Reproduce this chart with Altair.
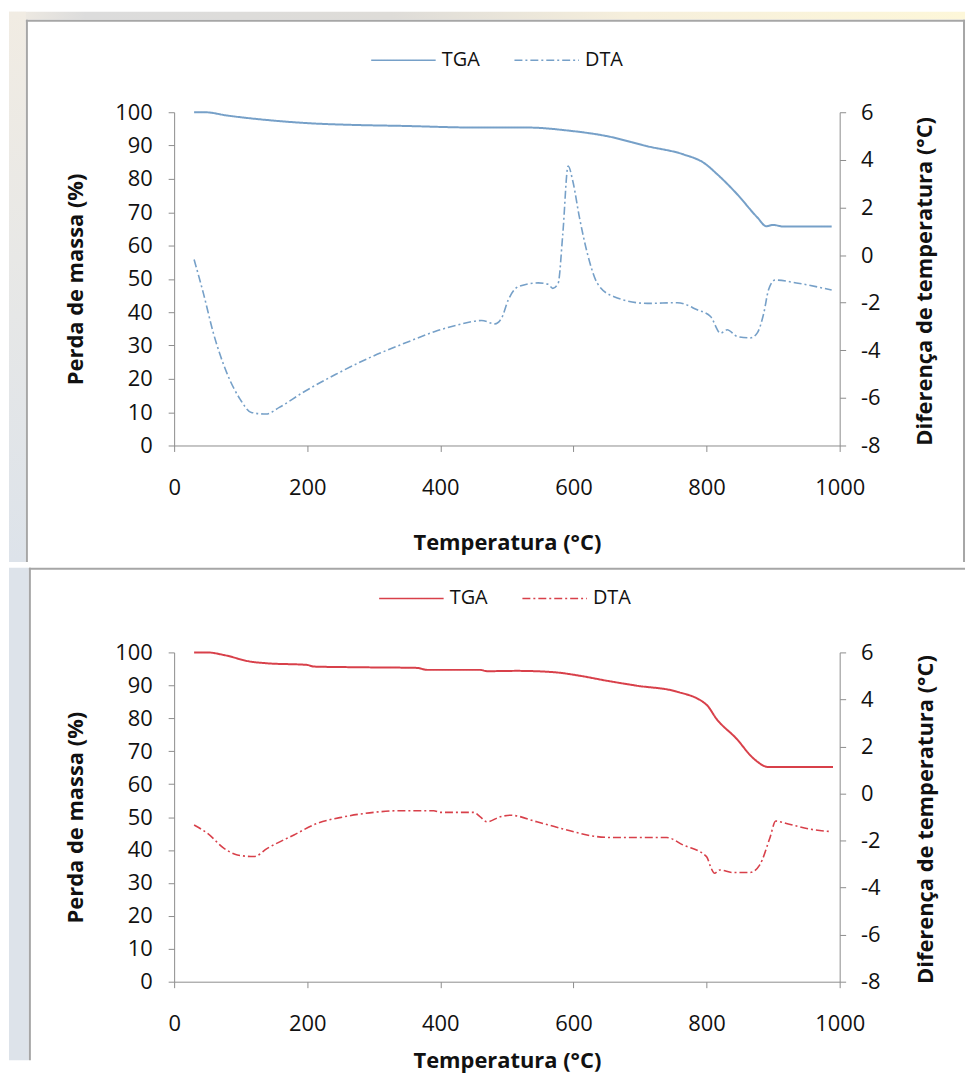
import altair as alt
import pandas as pd

# ---------------- data ----------------
top_tga_T = [30, 46, 80, 138, 203, 268, 343, 457, 532, 592, 651, 711, 766, 796, 816, 846, 876, 890, 900, 915, 988]
top_tga_v = [100, 100, 99.0, 97.7, 96.7, 96.2, 95.9, 95.4, 95.4, 94.5, 92.8, 89.8, 87.3, 84.8, 81.4, 75.4, 68.5, 65.8, 66.2, 65.7, 65.7]

top_dta_T = [30, 44, 59, 79, 99, 116, 138, 158, 193, 243, 293, 353, 392, 427, 462, 482, 492, 502, 517, 547, 562,
             569, 577, 584, 592, 599, 609, 621, 636, 661, 711, 756, 786, 806, 821, 831, 846, 866, 876, 886, 893,
             903, 935, 988]
top_dta_v = [-0.19, -1.61, -3.28, -4.94, -6.05, -6.61, -6.68, -6.40, -5.78, -5.01, -4.32, -3.63, -3.21, -2.93, -2.75,
             -2.89, -2.65, -1.89, -1.33, -1.17, -1.23, -1.40, -1.19, 0.89, 3.74, 3.11, 1.58, 0.06, -1.19, -1.75,
             -2.03, -2.00, -2.30, -2.58, -3.28, -3.14, -3.42, -3.48, -3.28, -2.44, -1.47, -1.05, -1.17, -1.47]

bot_tga_T = [30, 50, 75, 115, 140, 200, 210, 275, 365, 380, 460, 470, 515, 570, 610, 650, 695, 755, 800, 815, 845, 870, 893, 990]
bot_tga_v = [100, 100, 99.2, 97.2, 96.7, 96.2, 95.7, 95.5, 95.3, 94.7, 94.7, 94.3, 94.4, 94.0, 92.9, 91.4, 89.9, 88.1,
             84.1, 79.8, 73.8, 67.9, 65.2, 65.2]

bot_dta_T = [30, 50, 75, 95, 120, 140, 180, 215, 255, 300, 340, 390, 400, 450, 460, 470, 490, 505, 545, 605, 625,
             660, 740, 765, 800, 807, 812, 820, 840, 865, 880, 895, 904, 920, 955, 988]
bot_dta_v = [-1.34, -1.69, -2.33, -2.61, -2.68, -2.33, -1.76, -1.27, -0.99, -0.80, -0.73, -0.73, -0.80, -0.80, -0.99,
             -1.20, -0.99, -0.92, -1.20, -1.66, -1.79, -1.87, -1.87, -2.19, -2.68, -3.18, -3.39, -3.25, -3.36, -3.36,
             -3.03, -1.90, -1.17, -1.27, -1.51, -1.62]

series_names = ["TGA", "DTA"]
x_ticks = [0, 200, 400, 600, 800, 1000]
left_ticks = list(range(0, 101, 10))
right_ticks = [-8, -6, -4, -2, 0, 2, 4, 6]

x_title_top = "Temperatura (°C)"
x_title_bot = "Temperatura  (°C)"
left_title = "Perda de massa (%)"
right_title = "Diferença de temperatura (°C)"

FONT = "Open Sans"
BORDER = "#a6a6a6"
PLAIN = "datum.value + ''"
one = pd.DataFrame({"a": [0]})


def panel(tT, tv, dT, dv, color, g):
    W, H = g["w"], g["h"]
    tga = pd.DataFrame({"T": tT, "v": tv, "series": "TGA"})
    dta = pd.DataFrame({"T": dT, "v": dv, "series": "DTA"})

    xaxis = alt.Axis(values=x_ticks, labelExpr=PLAIN, title=g["xtitle"], titleX=W / 2, titleY=g["xtitleY"],
                     titleAlign="center", titleBaseline="middle", labelPadding=26, zindex=3)
    xenc = alt.X("T:Q", scale=alt.Scale(domain=[0, 1000], nice=False), axis=xaxis)
    dash = alt.StrokeDash(
        "series:N",
        scale=alt.Scale(domain=series_names, range=[[1, 0], [8, 3, 2, 3]]),
        legend=alt.Legend(title=None, orient="none", direction="horizontal",
                          legendX=g["legX"], legendY=g["legY"], symbolType="stroke",
                          symbolSize=4200, symbolStrokeWidth=1.6, symbolStrokeColor=color,
                          labelOffset=5, columnPadding=30, zindex=3),
    )

    layers = []
    if g.get("top_strip"):
        layers.append(alt.Chart(one).mark_rect(
            fill=alt.LinearGradient(gradient="linear", x1=0, x2=1, y1=0, y2=0,
                                    stops=[alt.GradientStop(color="#f1ece3", offset=0),
                                           alt.GradientStop(color="#dcdcdc", offset=0.08),
                                           alt.GradientStop(color="#dedcd8", offset=0.4),
                                           alt.GradientStop(color="#f6efdc", offset=0.65),
                                           alt.GradientStop(color="#fdf7d9", offset=1)])
        ).encode(x=alt.value(g["bx0"]), x2=alt.value(g["bx1"]), y=alt.value(g["by0"]), y2=alt.value(g["wy0"])))
    # left strip of the slide background
    layers.append(alt.Chart(one).mark_rect(
        fill=alt.LinearGradient(gradient="linear", x1=0, x2=0, y1=0, y2=1,
                                stops=[alt.GradientStop(color=g["strip0"], offset=0),
                                       alt.GradientStop(color="#dde3ea", offset=1)])
    ).encode(x=alt.value(g["bx0"]), x2=alt.value(g["wx0"]), y=alt.value(g["by0"]), y2=alt.value(g["wy1"])))
    # white box
    layers.append(alt.Chart(one).mark_rect(fill="white").encode(
        x=alt.value(g["wx0"]), x2=alt.value(g["wx1"]), y=alt.value(g["wy0"]), y2=alt.value(g["wy1"])))
    # borders
    layers.append(alt.Chart(one).mark_rule(color=BORDER, strokeWidth=2).encode(
        x=alt.value(g["wx0"]), x2=alt.value(g["wx1"]), y=alt.value(g["wy0"] + 1)))
    layers.append(alt.Chart(one).mark_rule(color=BORDER, strokeWidth=2).encode(
        x=alt.value(g["wx0"] + 1), y=alt.value(g["wy0"]), y2=alt.value(g["wy1"])))
    if g.get("right_border"):
        layers.append(alt.Chart(one).mark_rule(color=BORDER, strokeWidth=2).encode(
            x=alt.value(g["wx1"] - 1), y=alt.value(g["wy0"]), y2=alt.value(g["wy1"])))

    tga_line = alt.Chart(tga).mark_line(color=color, strokeWidth=2, interpolate="monotone").encode(
        x=xenc,
        y=alt.Y("v:Q", scale=alt.Scale(domain=[0, 100], nice=False),
                axis=alt.Axis(orient="left", values=left_ticks, labelExpr=PLAIN, title=left_title,
                              labelPadding=16, titleX=g["ltX"], titleY=H / 2, titleAngle=270, zindex=3,
                              titleAlign="center", titleBaseline="middle")),
        strokeDash=dash,
    )
    dta_line = alt.Chart(dta).mark_line(color=color, strokeWidth=1.6, interpolate="monotone").encode(
        x=xenc,
        y=alt.Y("v:Q", scale=alt.Scale(domain=[-8, 6], nice=False),
                axis=alt.Axis(orient="right", values=right_ticks, labelExpr=PLAIN, title=right_title,
                              labelPadding=15, titleX=g["rtX"], titleY=H / 2 + 2, titleAngle=270, zindex=3,
                              titleAlign="center", titleBaseline="middle")),
        strokeDash=dash,
    )
    lines = alt.layer(tga_line, dta_line).resolve_scale(y="independent")
    return alt.layer(*layers, lines).properties(width=W, height=H)


# geometry relative to each plot's origin (page: top plot at x=174,y=111; bottom at x=174,y=653)
g_top = dict(w=669, h=335, bx0=-166, bx1=795, by0=-101, wx0=-149, wx1=795, wy0=-93, wy1=452,
             strip0="#f1ece3", top_strip=True, right_border=True,
             xtitle=x_title_top, xtitleY=98, legX=197, legY=-86, ltX=-99, rtX=85)
g_bot = dict(w=669, h=331, bx0=-166, bx1=795, by0=-85, wx0=-146, wx1=795, wy0=-85, wy1=410,
             strip0="#dde3ea", top_strip=False, right_border=False,
             xtitle=x_title_bot, xtitleY=79, legX=205, legY=-88, ltX=-99, rtX=86)

top = panel(top_tga_T, top_tga_v, top_dta_T, top_dta_v, "#76a0c8", g_top)
bot = panel(bot_tga_T, bot_tga_v, bot_dta_T, bot_dta_v, "#d8404a", g_bot)

chart = (
    alt.vconcat(top, bot, spacing=0, padding={"left": 0, "top": 0, "right": 0, "bottom": 0})
    .resolve_scale(strokeDash="independent")
    .resolve_legend(strokeDash="independent")
    .properties(background="white")
    .configure(padding={"left": 0, "top": 0, "right": 0, "bottom": 0})
    .configure_view(stroke="transparent")
    .configure_axis(domainColor="#8c8c8c", tickColor="#8c8c8c", tickSize=6, grid=False,
                    labelFont=FONT, labelFontSize=22, labelColor="#111111",
                    titleFont=FONT, titleFontSize=22, titleFontWeight="bold", titleColor="#111111",
                    labelFlush=False, labelOverlap=False)
    .configure_legend(labelFont=FONT, labelFontSize=20, labelColor="#111111", padding=0)
)

chart.save("out.html", embed_options={"renderer": "svg", "actions": False})
